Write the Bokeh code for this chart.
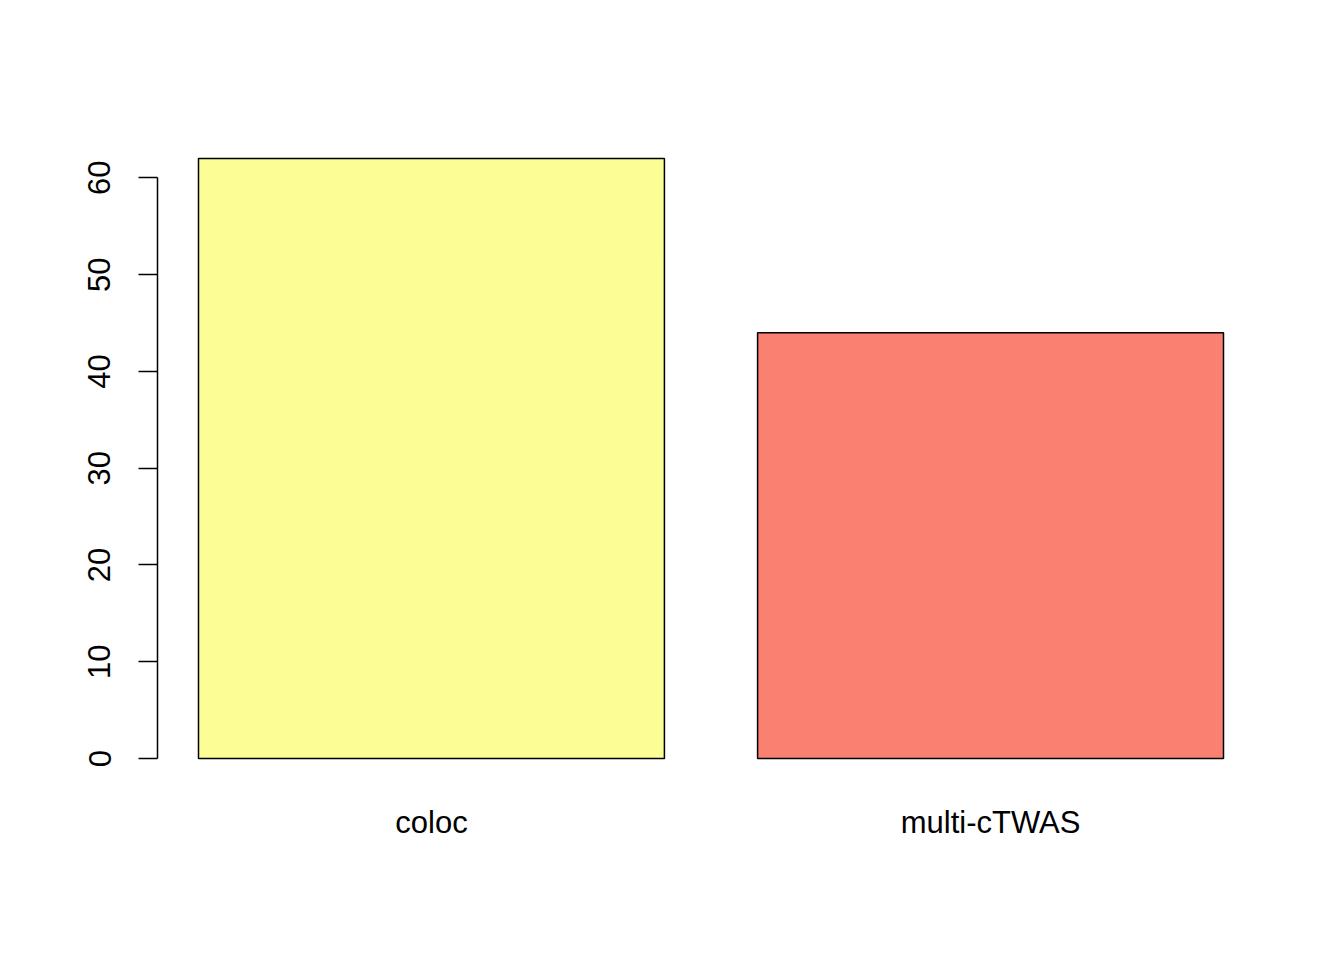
import math
from bokeh.plotting import figure
from bokeh.models import ColumnDataSource, Range1d, FixedTicker, LinearAxis
from bokeh.embed import file_html
from bokeh.resources import INLINE

categories = ["coloc", "multi-cTWAS"]
counts = [62, 44]
colors = ["#FDFD96", "#FA8072"]
y_ticks = [0, 10, 20, 30, 40, 50, 60]

# R barplot layout: width 1, space 0.2
centers = [0.7 + 1.2 * i for i in range(len(categories))]
src = ColumnDataSource(dict(x=centers, top=counts, color=colors, name=categories))

ymax = max(counts)
p = figure(width=1344, height=960, output_backend="svg", toolbar_location=None,
           x_range=Range1d(0.112, 2.488), y_range=Range1d(-0.04 * ymax, 1.04 * ymax),
           x_axis_location=None, y_axis_location=None,
           min_border_left=157, min_border_right=80, min_border_top=134, min_border_bottom=178)
p.outline_line_color = None
p.xgrid.visible = False
p.ygrid.visible = False
p.background_fill_color = "white"
p.border_fill_color = "white"

p.vbar(x="x", top="top", bottom=0, width=1.0, fill_color="color", line_color="black",
       line_width=1.5, source=src)

yaxis = LinearAxis(ticker=FixedTicker(ticks=y_ticks), bounds=(0, 60))
yaxis.major_tick_out = 19
yaxis.major_tick_in = 0
yaxis.minor_tick_line_color = None
yaxis.axis_line_width = 1.5
yaxis.major_tick_line_width = 1.5
yaxis.major_label_orientation = "parallel"
yaxis.major_label_standoff = 28
yaxis.major_label_text_font = "Liberation Sans"
yaxis.major_label_text_font_size = "31px"
yaxis.major_label_text_color = "black"
p.add_layout(yaxis, "left")

xaxis = LinearAxis(ticker=FixedTicker(ticks=centers))
xaxis.major_label_overrides = {c: n for c, n in zip(centers, categories)}
xaxis.axis_line_color = None
xaxis.major_tick_line_color = None
xaxis.minor_tick_line_color = None
xaxis.major_tick_out = 0
xaxis.major_tick_in = 0
xaxis.major_label_standoff = 22
xaxis.major_label_text_font = "Liberation Sans"
xaxis.major_label_text_font_size = "31px"
xaxis.major_label_text_color = "black"
p.add_layout(xaxis, "below")

open("out.html", "w").write(file_html(p, INLINE))
